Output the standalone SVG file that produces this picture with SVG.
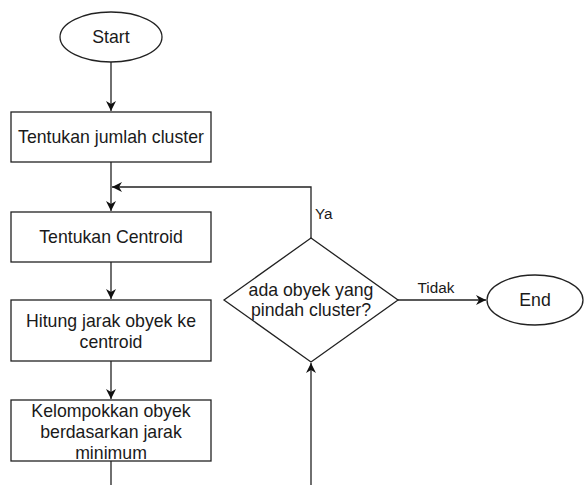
<svg xmlns="http://www.w3.org/2000/svg" width="584" height="485" viewBox="0 0 584 485">
<style>
.shape{fill:#fff;stroke:#222;stroke-width:1.3}
.edge{fill:none;stroke:#222;stroke-width:1.3}
.t{font-family:"Liberation Sans",Arial,sans-serif;font-size:17.7px;fill:#1a1a1a;text-anchor:middle;dominant-baseline:central}
.lbl{font-family:"Liberation Sans",Arial,sans-serif;font-size:15.3px;fill:#1a1a1a}
</style>
<defs>
<marker id="arr" markerUnits="userSpaceOnUse" markerWidth="12" markerHeight="10" refX="10" refY="5" orient="auto">
<path d="M0,0 L10,5 L0,10 L3,5 z" fill="#111"/>
</marker>
</defs>
<rect width="584" height="485" fill="#fff"/>
<g id="connectors">
<path class="edge" d="M111,62 L111,111" marker-end="url(#arr)"/>
<path class="edge" d="M111,162 L111,211" marker-end="url(#arr)"/>
<path class="edge" d="M111,262 L111,299" marker-end="url(#arr)"/>
<path class="edge" d="M111,361 L111,399" marker-end="url(#arr)"/>
<path class="edge" d="M111,461 L111,485"/>
<path class="edge" d="M311,485 L311,363" marker-end="url(#arr)"/>
<path class="edge" d="M311,238 L311,187 L112,187" marker-end="url(#arr)"/>
<path class="edge" d="M398,300 L486,300" marker-end="url(#arr)"/>
<text class="lbl" x="315" y="219">Ya</text>
<text class="lbl" x="436" y="293" text-anchor="middle">Tidak</text>
</g>
<g id="start">
<ellipse class="shape" cx="111" cy="37" rx="51" ry="25"/>
<text class="t" x="111" y="37">Start</text>
</g>
<g id="jumlah">
<rect class="shape" x="11" y="112" width="200" height="50"/>
<text class="t" x="111" y="137">Tentukan jumlah cluster</text>
</g>
<g id="centroid">
<rect class="shape" x="11" y="212" width="200" height="50"/>
<text class="t" x="111" y="237">Tentukan Centroid</text>
</g>
<g id="hitung">
<rect class="shape" x="11" y="300" width="200" height="61"/>
<text class="t" x="111" y="321">Hitung jarak obyek ke</text>
<text class="t" x="111" y="342">centroid</text>
</g>
<g id="kelompok">
<rect class="shape" x="11" y="400" width="200" height="61"/>
<text class="t" x="111" y="411">Kelompokkan obyek</text>
<text class="t" x="111" y="432">berdasarkan jarak</text>
<text class="t" x="111" y="453">minimum</text>
</g>
<g id="decision">
<polygon class="shape" points="311,238 398,300 311,362 224,300"/>
<text class="t" x="311" y="290">ada obyek yang</text>
<text class="t" x="311" y="310">pindah cluster?</text>
</g>
<g id="end">
<ellipse class="shape" cx="535" cy="300" rx="48" ry="25"/>
<text class="t" x="535" y="300">End</text>
</g>
</svg>
